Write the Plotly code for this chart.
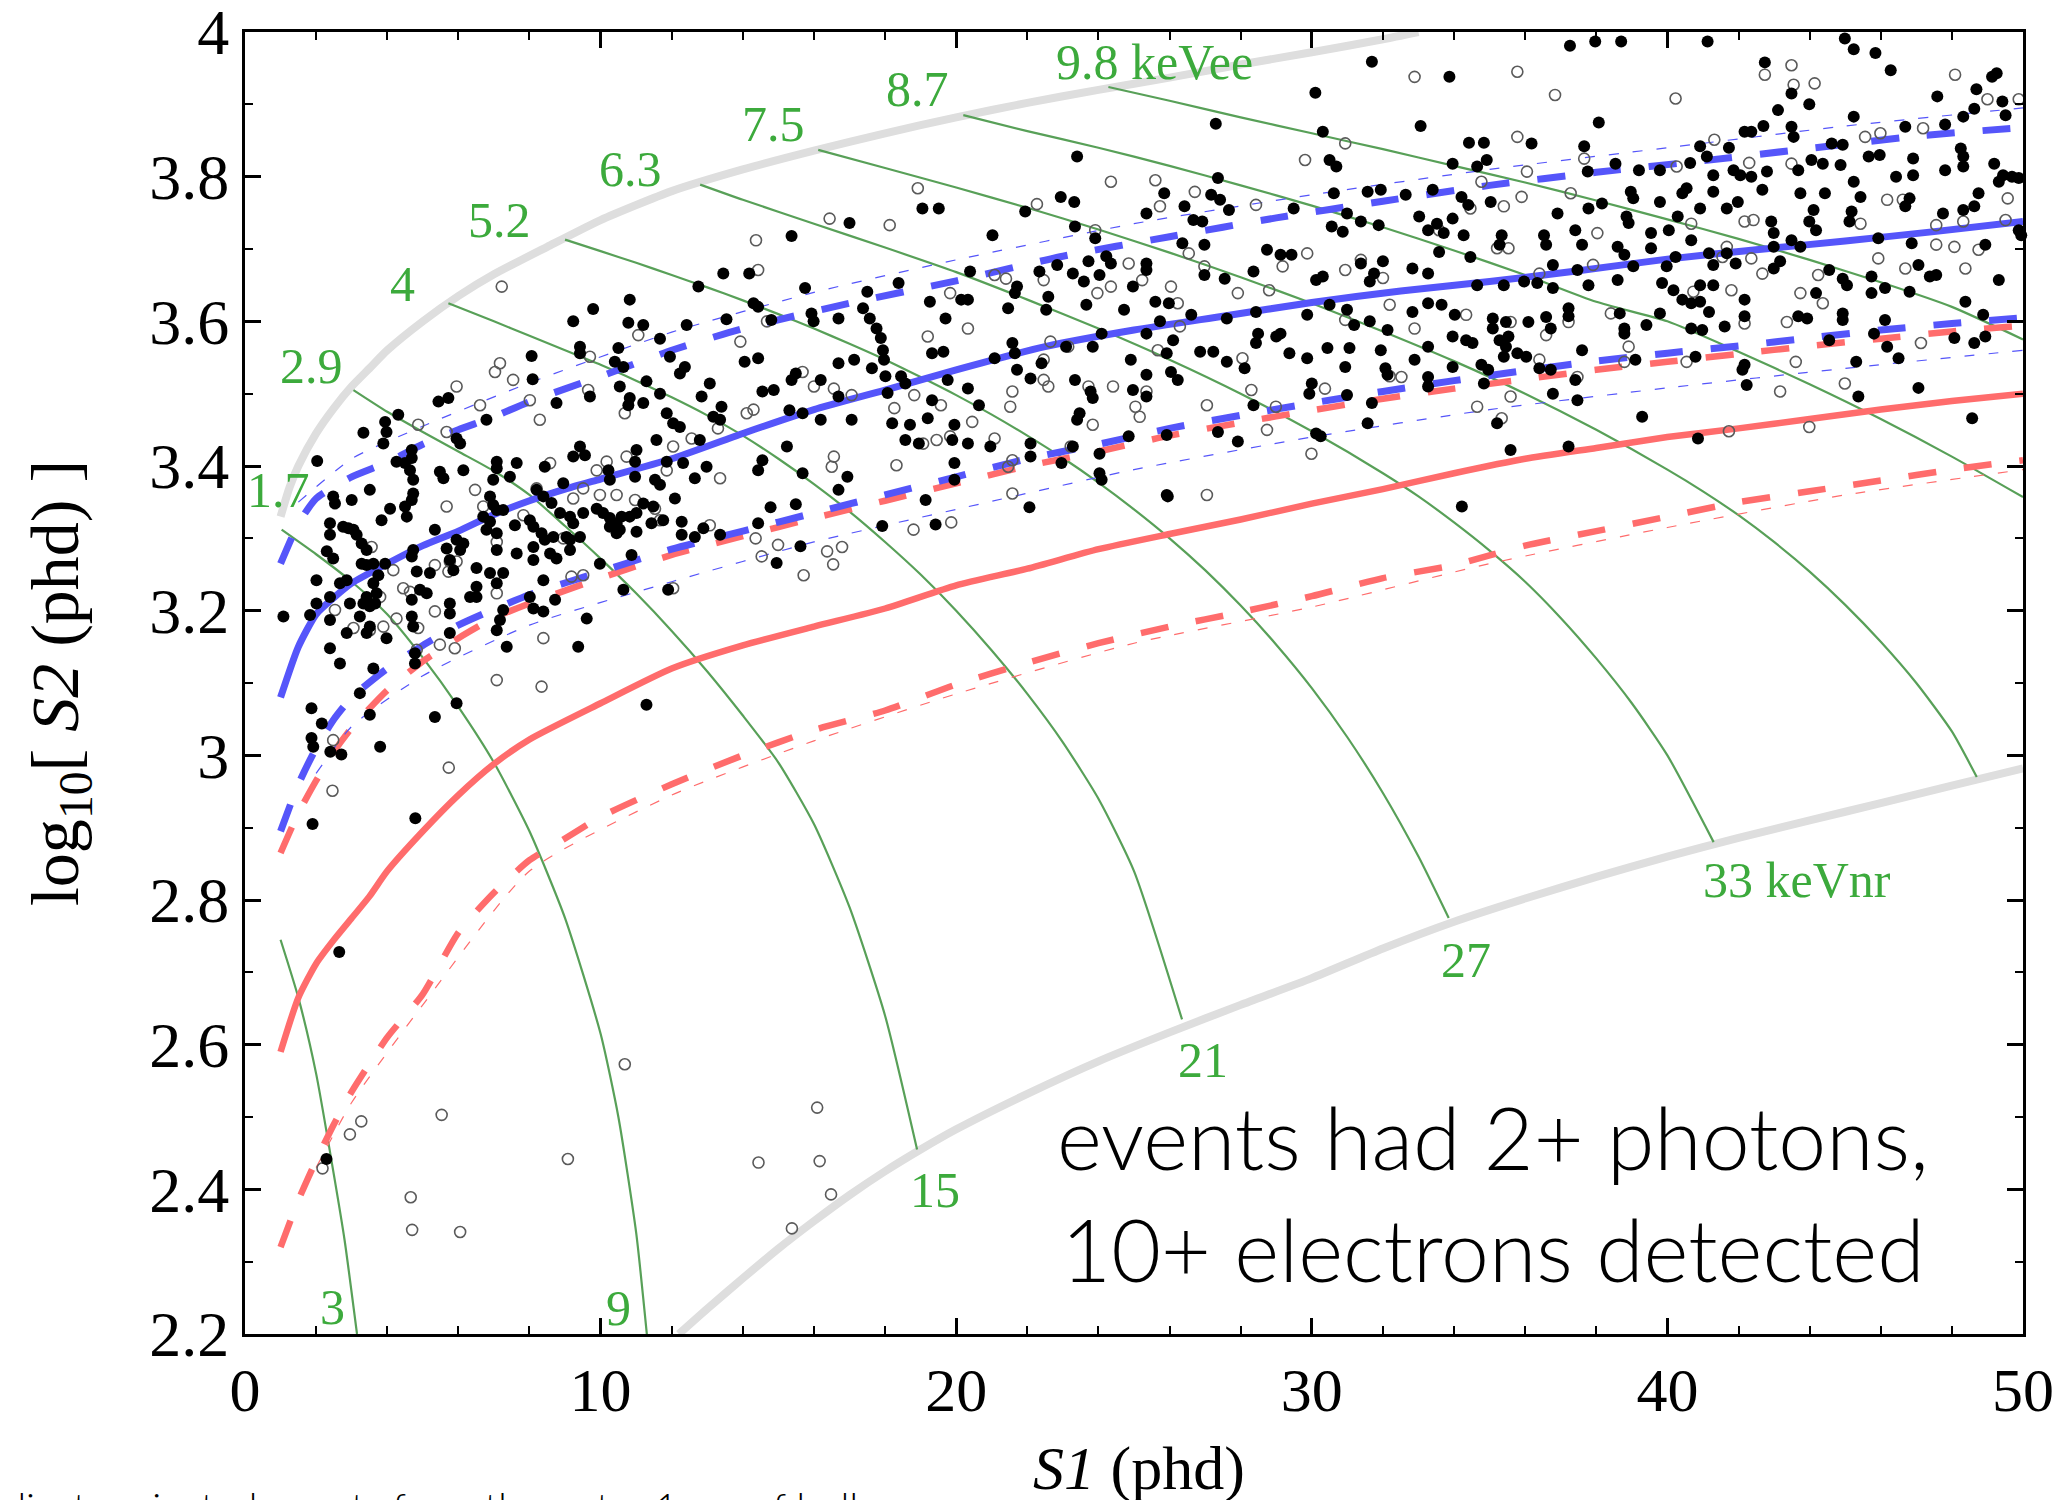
import plotly.graph_objects as go

# ---------------- axis ticks ----------------
x_ticks = [0, 10, 20, 30, 40, 50]
x_tick_text = ["0", "10", "20", "30", "40", "50"]
y_ticks = [2.2, 2.4, 2.6, 2.8, 3.0, 3.2, 3.4, 3.6, 3.8, 4.0]
y_tick_text = ["2.2", "2.4", "2.6", "2.8", "3", "3.2", "3.4", "3.6", "3.8", "4"]

# ---------------- boundary curves (grey) ----------------
upper_edge_s1 = [1.0, 1.25, 1.5, 2.0, 2.5, 3.0, 3.5, 4.0, 5.0, 6.0, 7.0, 8.5, 10, 12, 14, 16, 18, 20, 22, 24, 26, 28, 30, 32, 33]
upper_edge_y = [3.33, 3.37, 3.40, 3.445, 3.48, 3.51, 3.535, 3.56, 3.60, 3.635, 3.665, 3.703, 3.74, 3.78, 3.81, 3.836, 3.86, 3.882, 3.902, 3.92, 3.937, 3.955, 3.972, 3.99, 4.0]
lower_edge_s1 = [12.2, 13, 14, 15, 16, 17, 18, 19, 20, 22, 24, 26, 28, 30, 32, 34, 36, 38, 40, 42, 44, 46, 48, 50]
lower_edge_y = [2.2, 2.235, 2.277, 2.318, 2.356, 2.392, 2.425, 2.455, 2.483, 2.532, 2.577, 2.617, 2.655, 2.692, 2.733, 2.77, 2.802, 2.832, 2.86, 2.886, 2.91, 2.934, 2.958, 2.982]

# ---------------- energy contours (green) ----------------
c3_s1 = [1.0, 1.5, 2.0, 2.5, 2.8, 3.15]
c3_y = [2.745, 2.665, 2.56, 2.42, 2.33, 2.2]
c9_s1 = [1.03, 2, 3, 4, 5, 6, 7, 8, 9, 10, 10.5, 11, 11.3]
c9_y = [3.312, 3.278, 3.24, 3.195, 3.135, 3.067, 2.99, 2.895, 2.775, 2.615, 2.5, 2.34, 2.2]
c15_s1 = [3.05, 4, 5, 6, 7, 8, 9, 10, 11, 12, 13, 14, 15, 16, 17, 18, 18.9]
c15_y = [3.505, 3.475, 3.447, 3.42, 3.393, 3.36, 3.317, 3.272, 3.224, 3.172, 3.116, 3.055, 2.99, 2.905, 2.79, 2.64, 2.455]
c21_s1 = [5.72, 7, 8, 9, 10, 11, 12, 13, 14, 15, 16, 17, 18, 19, 20, 21, 22, 23, 24, 25, 26.35]
c21_y = [3.625, 3.6, 3.58, 3.56, 3.54, 3.518, 3.495, 3.47, 3.442, 3.41, 3.375, 3.337, 3.295, 3.25, 3.2, 3.145, 3.085, 3.018, 2.94, 2.84, 2.635]
c27_s1 = [9, 10, 11, 12, 13, 14, 15, 16, 17, 18, 19, 20, 21, 22, 23, 24, 25, 26, 27, 28, 29, 30, 31, 32, 33, 33.85]
c27_y = [3.713, 3.697, 3.681, 3.664, 3.647, 3.629, 3.61, 3.59, 3.569, 3.547, 3.523, 3.498, 3.471, 3.442, 3.411, 3.377, 3.34, 3.3, 3.256, 3.207, 3.153, 3.093, 3.025, 2.948, 2.86, 2.775]
c33_s1 = [12.8, 14, 16, 18, 20, 22, 24, 26, 28, 30, 32, 33, 34, 35, 36, 37, 38, 39, 40, 41.3]
c33_y = [3.789, 3.768, 3.735, 3.702, 3.668, 3.63, 3.59, 3.547, 3.5, 3.448, 3.39, 3.358, 3.322, 3.283, 3.24, 3.19, 3.134, 3.072, 3.0, 2.88]
c39_s1 = [16.12, 18, 20, 22, 24, 26, 28, 30, 32, 34, 36, 38, 40, 41, 42, 43, 44, 45, 46, 47, 48, 48.7]
c39_y = [3.837, 3.812, 3.785, 3.757, 3.727, 3.695, 3.661, 3.625, 3.586, 3.545, 3.5, 3.45, 3.395, 3.365, 3.332, 3.295, 3.254, 3.208, 3.157, 3.1, 3.033, 2.97]
c45_s1 = [20.2, 22, 24, 26, 28, 30, 32, 34, 36, 38, 40, 42, 44, 46, 48, 50]
c45_y = [3.885, 3.863, 3.84, 3.815, 3.788, 3.76, 3.73, 3.698, 3.664, 3.627, 3.6, 3.558, 3.513, 3.465, 3.413, 3.357]
c51_s1 = [24.28, 26, 28, 30, 32, 34, 36, 38, 40, 42, 44, 46, 48, 50]
c51_y = [3.924, 3.905, 3.882, 3.86, 3.838, 3.815, 3.792, 3.767, 3.741, 3.714, 3.685, 3.654, 3.62, 3.575]

# ---------------- ER band (blue) ----------------
er_med_s1 = [1.0, 1.5, 2, 2.5, 3, 4, 5, 6, 7, 8, 9, 10, 12, 14, 16, 18, 20, 22.5, 25, 27.5, 30, 32.5, 35, 37.5, 40, 42.5, 45, 47.5, 50]
er_med_y = [3.08, 3.15, 3.195, 3.218, 3.238, 3.265, 3.29, 3.31, 3.333, 3.352, 3.368, 3.382, 3.41, 3.445, 3.478, 3.505, 3.533, 3.565, 3.588, 3.607, 3.626, 3.642, 3.655, 3.67, 3.686, 3.699, 3.711, 3.724, 3.738]
er_hi_s1 = [1, 1.5, 2, 3, 4, 5, 6, 7, 8, 10, 12, 14, 17, 20, 23, 26, 29, 32, 35, 38, 41, 44, 47, 50]
er_hi_y = [3.265, 3.32, 3.355, 3.385, 3.405, 3.43, 3.45, 3.468, 3.489, 3.524, 3.56, 3.59, 3.625, 3.656, 3.69, 3.717, 3.743, 3.766, 3.788, 3.806, 3.822, 3.839, 3.856, 3.868]
er_lo_s1 = [1, 1.5, 2, 2.5, 3, 4, 5, 6, 7, 8, 10, 12, 14, 16, 18, 20, 22, 24, 26, 28, 30, 32, 34, 36, 38, 40, 42, 44, 46, 48, 50]
er_lo_y = [2.895, 2.96, 3.01, 3.05, 3.08, 3.12, 3.152, 3.18, 3.202, 3.222, 3.254, 3.285, 3.31, 3.335, 3.36, 3.385, 3.41, 3.43, 3.452, 3.47, 3.487, 3.503, 3.518, 3.532, 3.545, 3.556, 3.566, 3.577, 3.588, 3.597, 3.605]
er_hi_thin_s1 = [1.5, 3, 5, 8, 12, 16, 20, 25, 30, 35, 40, 45, 50]
er_hi_thin_y = [3.35, 3.41, 3.455, 3.515, 3.585, 3.64, 3.685, 3.735, 3.775, 3.81, 3.84, 3.87, 3.895]
er_lo_thin_s1 = [2, 3, 5, 8, 12, 16, 20, 25, 30, 35, 40, 45, 50]
er_lo_thin_y = [2.975, 3.04, 3.11, 3.18, 3.24, 3.295, 3.34, 3.395, 3.44, 3.478, 3.508, 3.535, 3.56]

# ---------------- NR band (red) ----------------
nr_med_s1 = [1, 1.5, 2, 2.5, 3, 3.5, 4, 5, 6, 7, 8, 10, 12, 14, 16, 18, 20, 22, 24, 26, 28, 30, 32, 34, 36, 38, 40, 42, 44, 46, 48, 50]
nr_med_y = [2.59, 2.665, 2.712, 2.745, 2.775, 2.805, 2.84, 2.895, 2.945, 2.988, 3.022, 3.072, 3.12, 3.152, 3.178, 3.203, 3.235, 3.258, 3.285, 3.306, 3.326, 3.348, 3.368, 3.39, 3.41, 3.425, 3.44, 3.452, 3.465, 3.478, 3.49, 3.50]
nr_hi_s1 = [1, 1.5, 2, 2.5, 3, 4, 5, 6, 7, 8, 10, 12, 14, 16, 18, 20, 22, 24, 26, 28, 30, 32, 34, 36, 38, 40, 42, 44, 46, 48, 50]
nr_hi_y = [2.865, 2.92, 2.965, 3.005, 3.038, 3.09, 3.13, 3.162, 3.19, 3.21, 3.245, 3.277, 3.303, 3.328, 3.352, 3.376, 3.4, 3.42, 3.442, 3.46, 3.477, 3.493, 3.507, 3.52, 3.533, 3.544, 3.555, 3.566, 3.576, 3.586, 3.594]
nr_lo_s1 = [1, 1.5, 2, 2.5, 3, 4, 5, 6, 7, 8, 9, 10, 12, 14, 16, 18, 20, 22, 24, 26, 28, 30, 32, 34, 36, 38, 40, 42, 44, 46, 48, 50]
nr_lo_y = [2.32, 2.385, 2.44, 2.49, 2.535, 2.61, 2.67, 2.755, 2.81, 2.855, 2.885, 2.915, 2.96, 3.0, 3.035, 3.062, 3.098, 3.128, 3.155, 3.178, 3.198, 3.22, 3.245, 3.263, 3.29, 3.31, 3.33, 3.35, 3.365, 3.38, 3.395, 3.408]
nr_lo_thin_s1 = [2, 3, 5, 8, 12, 16, 20, 25, 30, 35, 40, 45, 50]
nr_lo_thin_y = [2.43, 2.52, 2.655, 2.84, 2.945, 3.02, 3.085, 3.155, 3.205, 3.265, 3.315, 3.36, 3.395]

# ---------------- events (S1 phd, log10 S2) ----------------
dots_left = [(13.45,3.666),(12.75,3.648),(10.82,3.630),(9.79,3.617),(9.23,3.600),(10.78,3.598),(11.20,3.595),(12.42,3.595),(13.54,3.603),(11.67,3.576),(8.06,3.552),(9.42,3.565),(9.42,3.556),(10.50,3.563),(11.95,3.551),(10.40,3.544),(10.64,3.537),(12.37,3.537),(12.23,3.528),(8.09,3.520),(11.29,3.517),(13.07,3.514),(12.84,3.496),(11.67,3.500),(10.54,3.510),(10.82,3.494),(10.78,3.484),(11.20,3.487),(9.70,3.496),(5.44,3.489),(5.72,3.494),(8.76,3.487),(11.86,3.473),(12.04,3.459),(12.23,3.454),(13.17,3.468),(13.36,3.464),(13.40,3.482),(6.79,3.464),(4.31,3.471),(3.94,3.461),(3.98,3.447),(3.33,3.446),(3.89,3.431),(4.69,3.422),(4.69,3.411),(4.26,3.406),(4.50,3.404),(5.95,3.438),(6.05,3.431),(11.57,3.436),(12.79,3.436),(9.42,3.427),(9.56,3.415),(11.01,3.422),(10.97,3.406),(2.03,3.407),(4.64,3.394),(5.48,3.392),(5.58,3.383),(6.14,3.394),(7.08,3.406),(7.08,3.397),(7.64,3.404),(6.98,3.381),(7.45,3.385),(4.73,3.381),(4.73,3.362),(4.69,3.353),(4.50,3.344),(4.08,3.341),(4.55,3.330),(3.84,3.325),(2.48,3.358),(2.53,3.348),(3.00,3.353),(3.51,3.367),(8.43,3.399),(9.23,3.413),(10.22,3.394),(10.26,3.381),(10.97,3.385),(11.53,3.381),(11.67,3.374),(12.09,3.355),(12.65,3.383),(12.98,3.399),(12.32,3.404),(11.86,3.406),(8.95,3.376),(8.20,3.367),(8.39,3.358),(8.62,3.349),(8.86,3.335),(9.14,3.330),(9.23,3.321),(9.51,3.335),(9.89,3.341),(10.07,3.335),(10.26,3.328),(10.45,3.321),(10.59,3.330),(10.82,3.330),(11.01,3.335),(11.20,3.348),(11.48,3.344),(10.26,3.316),(10.45,3.307),(10.54,3.312),(11.01,3.309),(11.43,3.321),(11.76,3.325),(12.28,3.323),(12.28,3.305),(12.65,3.302),(12.89,3.314),(13.36,3.305),(6.89,3.358),(6.98,3.346),(7.08,3.339),(7.26,3.339),(6.70,3.330),(6.89,3.323),(6.79,3.312),(7.08,3.307),(7.08,3.284),(7.59,3.318),(8.01,3.325),(8.11,3.316),(8.34,3.307),(8.43,3.298),(8.67,3.302),(9.04,3.302),(9.14,3.298),(9.42,3.302),(8.11,3.288),(8.11,3.270),(7.64,3.279),(8.58,3.279),(8.76,3.272),(9.14,3.284),(2.76,3.316),(2.91,3.314),(3.05,3.312),(3.14,3.305),(3.28,3.293),(3.42,3.284),(2.39,3.305),(2.30,3.282),(2.48,3.272),(2.01,3.242),(2.67,3.238),(2.86,3.242),(3.28,3.265),(3.42,3.263),(3.61,3.265),(3.94,3.265),(3.75,3.249),(3.61,3.238),(3.70,3.224),(3.42,3.219),(3.33,3.210),(3.51,3.206),(3.66,3.210),(3.23,3.192),(2.95,3.210),(2.39,3.219),(2.01,3.210),(1.83,3.194),(1.08,3.192),(2.39,3.187),(2.86,3.169),(3.42,3.169),(3.51,3.178),(3.98,3.162),(2.67,3.127),(2.39,3.148),(3.61,3.120),(4.78,3.141),(4.78,3.127),(4.69,3.275),(4.73,3.284),(4.83,3.254),(5.20,3.252),(5.34,3.312),(5.67,3.286),(5.95,3.298),(6.05,3.284),(6.14,3.293),(5.76,3.270),(5.86,3.256),(6.51,3.259),(6.89,3.252),(7.26,3.252),(7.08,3.238),(6.51,3.233),(6.33,3.219),(6.51,3.219),(4.92,3.229),(5.11,3.224),(4.69,3.215),(4.69,3.192),(4.73,3.178),(5.76,3.210),(5.76,3.196),(5.76,3.169),(7.26,3.201),(7.08,3.173),(7.17,3.187),(7.36,3.150),(8.01,3.219),(8.11,3.203),(8.39,3.199),(8.39,3.242),(8.72,3.215),(9.61,3.189),(9.37,3.150),(9.98,3.265),(10.64,3.229),(10.87,3.277),(11.90,3.229),(5.95,3.072),(5.34,3.053),(1.87,3.065),(2.16,3.044),(3.23,3.086),(3.51,3.056),(1.87,3.024),(1.92,3.012),(3.80,3.012),(11.29,3.070),(2.39,3.321)]
dots_low = [(2.40,3.005),(2.71,3.001),(1.90,2.905),(4.79,2.913),(2.65,2.728),(2.29,2.442)]
dots_mid = [(31.69,3.959),(30.10,3.916),(27.30,3.873),(30.31,3.862),(23.40,3.828),(30.50,3.823),(30.69,3.814),(27.36,3.798),(19.05,3.756),(19.51,3.756),(17.00,3.736),(15.37,3.718),(21.02,3.719),(21.94,3.752),(22.94,3.772),(23.32,3.765),(25.85,3.777),(25.35,3.749),(26.42,3.759),(27.17,3.775),(27.42,3.768),(27.67,3.754),(26.67,3.740),(26.92,3.738),(29.49,3.756),(30.62,3.777),(31.57,3.779),(31.94,3.782),(30.99,3.749),(30.56,3.731),(30.87,3.724),(31.38,3.738),(31.88,3.733),(23.34,3.731),(23.91,3.715),(26.36,3.708),(26.98,3.706),(28.74,3.699),(29.12,3.692),(29.43,3.692),(28.36,3.669),(31.38,3.680),(32.00,3.683),(31.75,3.666),(31.63,3.655),(30.12,3.657),(30.31,3.662),(27.55,3.659),(26.98,3.664),(14.18,3.666),(15.75,3.646),(17.50,3.641),(18.38,3.653),(20.39,3.669),(22.34,3.669),(22.84,3.678),(23.72,3.683),(23.28,3.666),(23.59,3.655),(24.03,3.664),(24.22,3.690),(24.35,3.680),(25.35,3.680),(25.35,3.671),(24.97,3.648),(19.26,3.627),(19.70,3.604),(20.33,3.630),(20.14,3.630),(21.71,3.648),(21.65,3.639),(21.46,3.618),(22.59,3.634),(22.53,3.616),(23.66,3.623),(24.72,3.616),(25.60,3.627),(25.98,3.625),(25.73,3.600),(26.61,3.609),(27.61,3.604),(28.43,3.613),(29.12,3.583),(29.87,3.609),(30.50,3.623),(30.99,3.616),(31.19,3.595),(31.63,3.600),(32.13,3.588),(31.94,3.560),(31.06,3.563),(30.44,3.563),(14.30,3.625),(14.43,3.620),(14.80,3.602),(15.93,3.611),(15.99,3.600),(16.69,3.604),(17.38,3.618),(17.57,3.604),(17.76,3.590),(17.88,3.577),(17.94,3.560),(17.97,3.547),(18.01,3.524),(14.05,3.544),(14.43,3.549),(15.49,3.528),(16.69,3.542),(17.13,3.547),(17.63,3.535),(19.64,3.558),(19.32,3.556),(21.08,3.549),(21.65,3.556),(21.71,3.533),(21.58,3.570),(22.40,3.542),(22.09,3.521),(23.34,3.519),(23.09,3.565),(23.84,3.565),(24.09,3.583),(24.91,3.547),(25.35,3.583),(26.10,3.574),(25.92,3.556),(26.86,3.558),(27.23,3.558),(28.43,3.570),(28.49,3.583),(29.00,3.579),(29.37,3.556),(29.87,3.549),(30.94,3.537),(32.07,3.535),(25.35,3.526),(26.04,3.530),(26.23,3.519),(27.61,3.544),(28.11,3.535),(14.55,3.503),(14.87,3.505),(15.37,3.519),(16.19,3.519),(16.69,3.496),(15.31,3.477),(15.68,3.473),(16.19,3.464),(17.06,3.464),(18.07,3.501),(18.45,3.524),(18.57,3.514),(19.76,3.519),(20.33,3.507),(20.64,3.484),(19.32,3.491),(18.20,3.459),(18.70,3.457),(19.20,3.466),(19.95,3.457),(18.57,3.436),(18.95,3.431),(19.89,3.436),(20.33,3.431),(20.96,3.427),(22.09,3.431),(22.09,3.413),(22.96,3.404),(23.28,3.427),(23.47,3.473),(23.78,3.503),(23.84,3.494),(24.97,3.505),(25.35,3.496),(23.40,3.464),(24.03,3.417),(24.03,3.390),(24.85,3.441),(25.92,3.443),(27.36,3.447),(27.92,3.434),(30.00,3.514),(29.93,3.500),(30.12,3.445),(30.25,3.441),(31.57,3.459),(30.99,3.498),(31.69,3.487),(32.13,3.526),(28.36,3.484),(24.09,3.381),(25.92,3.360),(14.55,3.408),(15.24,3.427),(15.68,3.390),(16.69,3.367),(14.43,3.394),(19.95,3.404),(19.95,3.381),(16.94,3.385)]
dots_right = [(37.26,3.981),(37.97,3.987),(38.70,3.987),(41.13,3.987),(44.99,3.991),(45.24,3.976),(45.85,3.971),(46.28,3.947),(33.87,3.938),(42.74,3.958),(47.59,3.911),(48.69,3.921),(49.13,3.938),(49.26,3.943),(49.42,3.904),(49.51,3.885),(43.49,3.915),(43.99,3.900),(43.11,3.892),(45.24,3.883),(48.32,3.883),(48.63,3.894),(47.81,3.872),(46.69,3.869),(33.06,3.870),(38.07,3.875),(42.17,3.862),(42.36,3.862),(42.70,3.870),(43.49,3.869),(43.55,3.855),(34.42,3.847),(34.84,3.847),(36.18,3.846),(37.66,3.842),(40.92,3.842),(41.73,3.840),(44.62,3.846),(44.93,3.844),(45.66,3.828),(45.97,3.830),(46.91,3.825),(48.32,3.828),(48.25,3.839),(33.96,3.818),(34.92,3.823),(34.65,3.814),(37.76,3.807),(38.54,3.818),(39.20,3.809),(39.79,3.809),(40.64,3.819),(41.11,3.828),(41.86,3.809),(42.05,3.802),(42.36,3.800),(42.80,3.807),(43.68,3.809),(44.05,3.823),(44.37,3.818),(44.87,3.816),(46.43,3.800),(46.91,3.802),(47.81,3.809),(48.32,3.814),(49.19,3.818),(49.44,3.802),(49.69,3.800),(49.88,3.798),(45.24,3.793),(32.64,3.775),(33.40,3.782),(34.21,3.772),(35.03,3.765),(34.40,3.761),(38.97,3.779),(39.04,3.770),(39.79,3.765),(40.42,3.777),(40.54,3.784),(41.29,3.802),(41.29,3.779),(41.98,3.765),(42.67,3.782),(43.74,3.777),(44.43,3.777),(45.43,3.772),(46.81,3.770),(46.69,3.759),(48.75,3.777),(49.32,3.793),(36.91,3.749),(37.78,3.756),(38.16,3.763),(38.85,3.745),(38.91,3.736),(39.54,3.722),(40.29,3.745),(40.04,3.726),(40.92,3.756),(41.67,3.756),(45.18,3.752),(45.12,3.738),(47.75,3.749),(48.32,3.754),(48.63,3.759),(44.11,3.754),(43.99,3.738),(44.18,3.726),(42.92,3.738),(42.99,3.722),(33.02,3.745),(33.27,3.726),(33.52,3.735),(33.71,3.722),(33.96,3.742),(33.58,3.696),(34.27,3.719),(34.46,3.689),(35.34,3.719),(35.28,3.706),(36.53,3.719),(36.59,3.706),(37.41,3.726),(37.60,3.706),(38.60,3.703),(38.79,3.692),(39.54,3.701),(40.23,3.689),(40.67,3.712),(41.17,3.694),(41.29,3.678),(41.67,3.694),(41.92,3.680),(42.99,3.703),(43.49,3.712),(43.74,3.703),(45.93,3.715),(46.87,3.708),(48.94,3.706),(49.32,3.657),(49.95,3.719),(49.88,3.726),(32.83,3.673),(33.27,3.666),(34.65,3.650),(35.40,3.650),(35.97,3.655),(36.34,3.653),(36.78,3.678),(36.78,3.646),(37.47,3.671),(37.78,3.650),(38.60,3.657),(39.04,3.676),(39.98,3.676),(39.85,3.653),(40.17,3.643),(40.42,3.630),(40.67,3.625),(40.92,3.627),(41.17,3.613),(40.92,3.650),(41.29,3.650),(42.17,3.630),(42.99,3.673),(43.17,3.683),(44.18,3.639),(44.55,3.671),(44.93,3.659),(45.05,3.650),(45.74,3.662),(46.12,3.646),(45.74,3.639),(46.81,3.641),(47.06,3.678),(47.38,3.662),(47.56,3.664),(48.38,3.627),(48.88,3.609),(32.83,3.613),(33.27,3.625),(33.65,3.623),(34.02,3.609),(33.96,3.579),(34.34,3.574),(34.52,3.570),(35.09,3.604),(35.09,3.590),(35.46,3.599),(35.53,3.579),(35.46,3.565),(36.09,3.599),(36.59,3.606),(36.72,3.590),(37.22,3.618),(37.22,3.607),(37.60,3.560),(38.66,3.611),(38.79,3.590),(38.79,3.583),(39.41,3.595),(39.79,3.611),(40.67,3.590),(40.98,3.588),(41.61,3.593),(42.17,3.607),(43.68,3.607),(43.93,3.604),(44.93,3.602),(44.93,3.611),(46.12,3.602),(44.55,3.574),(46.18,3.565),(45.81,3.583),(32.89,3.547),(33.27,3.523),(33.27,3.510),(33.27,3.565),(33.96,3.537),(34.77,3.540),(34.96,3.533),(35.28,3.574),(35.40,3.551),(35.78,3.556),(36.03,3.551),(36.40,3.535),(36.72,3.533),(36.78,3.500),(37.41,3.519),(37.47,3.491),(34.84,3.514),(39.10,3.547),(40.79,3.551),(42.11,3.533),(42.23,3.512),(42.17,3.540),(45.31,3.544),(46.50,3.549),(48.07,3.577),(48.63,3.570),(48.94,3.579),(47.06,3.508),(45.37,3.496),(39.29,3.468),(37.22,3.427),(35.59,3.422),(35.21,3.459),(40.86,3.438),(48.57,3.466)]
dots_band = [(14.78,3.343),(15.49,3.347),(14.43,3.321),(17.92,3.317),(19.42,3.319),(15.62,3.289),(14.95,3.266),(22.06,3.343),(25.95,3.358),(19.14,3.353),(34.22,3.344)]

rings_left = [(7.22,3.648),(7.17,3.542),(7.03,3.530),(7.54,3.519),(5.95,3.510),(8.01,3.491),(8.29,3.464),(6.61,3.484),(4.87,3.457),(5.67,3.447),(9.70,3.551),(11.06,3.581),(9.65,3.505),(10.68,3.473),(12.56,3.438),(12.04,3.427),(10.73,3.413),(10.17,3.406),(9.89,3.394),(11.86,3.394),(13.36,3.383),(8.58,3.404),(6.47,3.367),(8.20,3.369),(9.51,3.369),(9.23,3.355),(9.98,3.360),(10.45,3.360),(10.97,3.353),(11.53,3.341),(11.67,3.325),(5.67,3.344),(6.70,3.344),(7.83,3.332),(8.95,3.300),(7.08,3.295),(3.56,3.288),(4.17,3.256),(5.34,3.263),(5.76,3.268),(5.95,3.268),(5.72,3.254),(4.45,3.231),(4.64,3.226),(3.80,3.219),(9.18,3.247),(9.51,3.249),(12.04,3.231),(7.08,3.224),(2.53,3.201),(4.26,3.189),(5.34,3.199),(3.89,3.178),(3.05,3.176),(3.51,3.173),(4.87,3.176),(5.48,3.153),(5.90,3.148),(4.83,3.146),(8.39,3.162),(7.08,3.104),(8.34,3.095),(2.48,3.021),(13.07,3.318)]
rings_low = [(2.46,2.951),(5.73,2.983),(2.18,2.429),(2.95,2.476),(3.27,2.494),(5.53,2.503),(4.66,2.389),(4.70,2.344),(6.05,2.341),(9.08,2.442),(10.68,2.573),(14.44,2.437),(15.38,2.346),(16.09,2.513),(16.16,2.439),(16.48,2.393)]
rings_mid = [(18.92,3.784),(14.37,3.712),(16.44,3.742),(18.13,3.733),(22.27,3.762),(24.35,3.793),(25.60,3.795),(26.71,3.779),(25.73,3.759),(28.43,3.761),(29.81,3.823),(30.94,3.846),(23.91,3.726),(24.85,3.680),(25.23,3.657),(26.98,3.676),(26.54,3.694),(29.18,3.676),(29.87,3.694),(30.94,3.671),(31.38,3.685),(28.80,3.643),(27.92,3.639),(26.04,3.648),(26.23,3.625),(26.29,3.593),(24.35,3.648),(23.97,3.639),(22.46,3.657),(21.08,3.664),(21.40,3.659),(19.83,3.639),(19.20,3.579),(20.33,3.590),(13.93,3.572),(14.68,3.600),(14.43,3.671),(22.65,3.572),(23.15,3.565),(22.46,3.547),(22.46,3.519),(23.72,3.510),(24.41,3.510),(25.35,3.503),(25.67,3.560),(28.05,3.549),(28.30,3.505),(27.05,3.484),(28.99,3.482),(32.19,3.524),(32.19,3.623),(32.00,3.660),(30.94,3.602),(30.37,3.507),(20.45,3.461),(21.52,3.482),(21.58,3.503),(19.57,3.484),(18.82,3.498),(18.26,3.480),(17.06,3.498),(16.56,3.507),(16.00,3.510),(15.68,3.530),(14.11,3.473),(14.30,3.478),(13.30,3.452),(16.56,3.413),(16.50,3.399),(18.32,3.401),(19.07,3.431),(19.45,3.436),(19.83,3.441),(21.08,3.438),(21.58,3.408),(21.46,3.399),(22.59,3.510),(23.84,3.457),(25.16,3.468),(28.74,3.450),(29.99,3.417),(27.05,3.360),(21.58,3.362),(23.22,3.427),(25.04,3.482),(18.80,3.312),(19.86,3.322),(14.36,3.300),(14.99,3.291),(14.53,3.275),(15.71,3.249),(16.37,3.282),(16.79,3.288),(16.54,3.264)]
rings_right = [(32.89,3.938),(35.78,3.945),(36.84,3.913),(40.23,3.908),(42.74,3.941),(43.49,3.954),(43.55,3.927),(44.14,3.929),(48.09,3.941),(49.00,3.907),(49.88,3.907),(35.78,3.855),(37.66,3.825),(41.32,3.851),(42.30,3.819),(43.49,3.818),(45.56,3.855),(45.99,3.860),(47.19,3.867),(40.26,3.814),(36.05,3.807),(34.77,3.793),(34.46,3.756),(35.40,3.759),(35.90,3.772),(37.28,3.777),(33.58,3.726),(38.03,3.722),(40.67,3.735),(42.17,3.738),(42.42,3.740),(45.43,3.735),(46.18,3.768),(46.62,3.768),(49.57,3.770),(47.56,3.733),(48.32,3.738),(49.51,3.740),(47.56,3.706),(48.07,3.703),(48.75,3.699),(35.21,3.701),(35.53,3.701),(37.91,3.678),(36.40,3.666),(41.67,3.703),(41.55,3.689),(42.36,3.687),(42.67,3.666),(45.93,3.687),(46.69,3.673),(48.38,3.673),(44.24,3.664),(43.74,3.639),(44.37,3.625),(41.80,3.643),(40.73,3.641),(32.89,3.590),(34.34,3.609),(35.59,3.599),(36.59,3.581),(37.22,3.599),(38.41,3.611),(42.17,3.597),(43.36,3.599),(38.91,3.565),(38.79,3.544),(40.54,3.544),(43.61,3.544),(47.13,3.570),(32.52,3.523),(36.40,3.547),(37.47,3.523),(44.99,3.514),(43.17,3.503),(35.59,3.496),(34.65,3.482),(35.34,3.466),(41.73,3.448),(43.99,3.454)]

# ---------------- labels ----------------
contour_labels = [("1.7", 0.93, 3.367), ("2.9", 1.86, 3.538), ("4", 4.44, 3.652), ("5.2", 7.17, 3.740),
                  ("6.3", 10.83, 3.811), ("7.5", 14.87, 3.873), ("8.7", 18.9, 3.921), ("9.8 keVee", 25.59, 3.959),
                  ("3", 2.47, 2.237), ("9", 10.5, 2.236), ("15", 19.4, 2.399), ("21", 26.95, 2.579),
                  ("27", 34.34, 2.717), ("33 keVnr", 43.65, 2.828)]

GREEN_LINE = "rgb(88,160,88)"
GREEN_TEXT = "rgb(60,170,60)"
BLUE = "rgb(85,85,250)"
RED = "rgb(255,108,108)"
GREY = "rgb(222,222,222)"
DASH = "28px,28px"

fig = go.Figure()


def add_line(xs, ys, color, width, dash="solid"):
    fig.add_trace(go.Scatter(x=xs, y=ys, mode="lines",
                             line=dict(color=color, width=width, dash=dash, shape="spline", smoothing=0.6),
                             hoverinfo="skip", showlegend=False))


def add_points(groups, filled):
    xs, ys = [], []
    for g in groups:
        xs += [p[0] for p in g]
        ys += [p[1] for p in g]
    if filled:
        marker = dict(symbol="circle", size=12, color="black", line=dict(width=0))
    else:
        marker = dict(symbol="circle-open", size=11, color="rgb(90,90,90)", line=dict(width=1.6, color="rgb(90,90,90)"))
    fig.add_trace(go.Scatter(x=xs, y=ys, mode="markers", marker=marker, cliponaxis=False,
                             hoverinfo="skip", showlegend=False))


# grey boundaries
add_line(upper_edge_s1, upper_edge_y, GREY, 8)
add_line(lower_edge_s1, lower_edge_y, GREY, 8)

# green contours
for xs, ys in [(c3_s1, c3_y), (c9_s1, c9_y), (c15_s1, c15_y), (c21_s1, c21_y), (c27_s1, c27_y),
               (c33_s1, c33_y), (c39_s1, c39_y), (c45_s1, c45_y), (c51_s1, c51_y)]:
    add_line(xs, ys, GREEN_LINE, 2.2)

# NR band
add_line(nr_lo_thin_s1, nr_lo_thin_y, RED, 1.2, "10px,14px")
add_line(nr_med_s1, nr_med_y, RED, 6.5)
add_line(nr_hi_s1, nr_hi_y, RED, 6.5, DASH)
add_line(nr_lo_s1, nr_lo_y, RED, 6.5, DASH)

# ER band
add_line(er_hi_thin_s1, er_hi_thin_y, BLUE, 1.2, "10px,14px")
add_line(er_lo_thin_s1, er_lo_thin_y, BLUE, 1.2, "10px,14px")
add_line(er_med_s1, er_med_y, BLUE, 7)
add_line(er_hi_s1, er_hi_y, BLUE, 7, DASH)
add_line(er_lo_s1, er_lo_y, BLUE, 7, DASH)

# events
add_points([rings_left, rings_low, rings_mid, rings_right], filled=False)
add_points([dots_left, dots_low, dots_mid, dots_right, dots_band], filled=True)

annotations = []
for text, sx, sy in contour_labels:
    annotations.append(dict(x=sx, y=sy, xref="x", yref="y", text=text, showarrow=False,
                            xanchor="center", yanchor="middle",
                            font=dict(family="Liberation Serif", size=50, color=GREEN_TEXT)))

annotations.append(dict(x=0.7017, y=0.109, xref="paper", yref="paper",
                        text="events had 2+ photons,<br>10+ electrons detected",
                        showarrow=False, xanchor="center", yanchor="middle", align="center",
                        font=dict(family="Lato", size=86, color="black", weight=300)))
annotations.append(dict(x=-0.1367, y=-0.1129, xref="paper", yref="paper",
                        text="dicate rejected events from the outer 1 cm of bulk",
                        showarrow=False, xanchor="left", yanchor="top",
                        font=dict(family="Lato", size=40, color="black", weight=300)))
annotations.append(dict(x=0.503, y=-0.103, xref="paper", yref="paper",
                        text="<i>S1</i> (phd)", showarrow=False, xanchor="center", yanchor="middle",
                        font=dict(family="Liberation Serif", size=62, color="black")))
annotations.append(dict(x=-0.1046, y=0.5, xref="paper", yref="paper", textangle=-90,
                        text="log<sub>10</sub>[ <i>S2</i> (phd) ]", showarrow=False,
                        xanchor="center", yanchor="middle",
                        font=dict(family="Liberation Serif", size=68, color="black")))

fig.update_layout(
    width=2069, height=1500,
    margin=dict(l=245, r=46, t=32, b=166, autoexpand=False),
    paper_bgcolor="white", plot_bgcolor="white",
    showlegend=False,
    annotations=annotations,
)
fig.update_xaxes(range=[0, 50], showline=True, linewidth=3, linecolor="black", mirror="allticks",
                 ticks="inside", ticklen=16, tickwidth=2.5, tickcolor="black",
                 tickvals=x_ticks, ticktext=x_tick_text,
                 tickfont=dict(family="Liberation Serif", size=62, color="black"),
                 showgrid=False, zeroline=False, ticklabelstandoff=0, ticklabeloverflow="allow",
                 minor=dict(ticks="inside", ticklen=8, tickwidth=2, dtick=2, tickcolor="black", showgrid=False))
fig.update_yaxes(range=[2.2, 4.0], showline=True, linewidth=3, linecolor="black", mirror="allticks",
                 ticks="inside", ticklen=16, tickwidth=2.5, tickcolor="black",
                 tickvals=y_ticks, ticktext=y_tick_text,
                 tickfont=dict(family="Liberation Serif", size=64, color="black"),
                 showgrid=False, zeroline=False, ticklabelstandoff=0, ticklabeloverflow="allow",
                 minor=dict(ticks="inside", ticklen=8, tickwidth=2, dtick=0.1, tickcolor="black", showgrid=False))

fig.write_html("out.html")
